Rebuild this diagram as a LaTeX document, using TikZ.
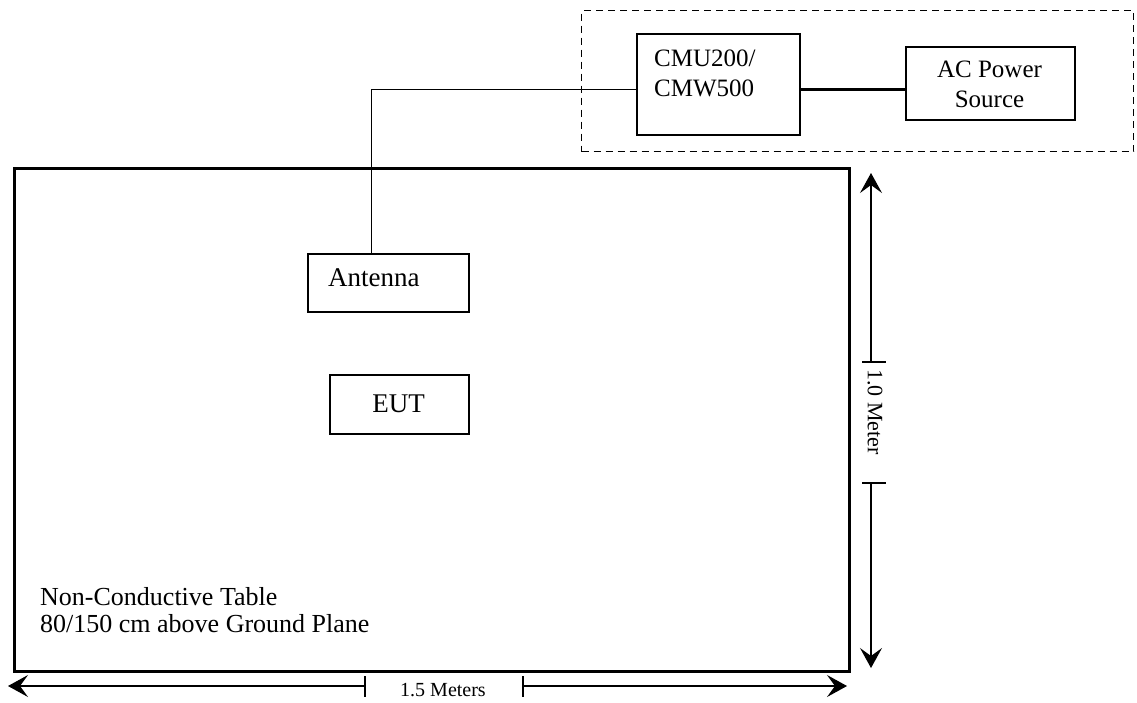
\documentclass[tikz,border=0pt]{standalone}
\usepackage{fontspec}
\setmainfont{Liberation Serif}
\usetikzlibrary{arrows.meta}
\begin{document}
\begin{tikzpicture}[x=1pt,y=-1pt,
  box/.style={draw, line width=1.6pt, inner sep=0pt, anchor=north west},
  tablebox/.style={draw, line width=3.2pt, inner sep=0pt, anchor=north west},
  grp/.style={draw, line width=1.3pt, dash pattern=on 7pt off 5pt, inner sep=0pt, anchor=north west},
  txt/.style={inner sep=0pt, font=\fontsize{25}{30}\selectfont},
  small/.style={inner sep=0pt, font=\fontsize{20}{22}\selectfont},
  wire/.style={line width=1.2pt},
  power/.style={line width=2.7pt},
  dim/.style={line width=1.1pt},
  tip/.style={-{Stealth[length=20pt,width=22pt,inset=8pt]}}
]
\useasboundingbox (0,0) rectangle (1137,702);
% group and boxes
\node[grp, minimum width=552pt, minimum height=141pt] (grp) at (581,10) {};
\node[tablebox, minimum width=835pt, minimum height=503pt] (table) at (13,167) {};
\node[box, minimum width=163pt, minimum height=101pt] (cmu) at (636,33) {};
\node[txt, anchor=base west, align=left] (cmut) at (654,96) {CMU200/\\CMW500};
\node[box, minimum width=169pt, minimum height=73pt] (ac) at (905,46) {};
\node[txt, align=center] (act) at (989.5,84) {AC Power\\Source};
\node[box, minimum width=161pt, minimum height=58pt] (ant) at (307,253) {};
\node[txt, font=\fontsize{27}{30}\selectfont, anchor=base west] (antt) at (328,286) {Antenna};
\node[box, minimum width=139pt, minimum height=59pt] (eut) at (329,374) {};
\node[txt, font=\fontsize{27}{30}\selectfont] (eutt) at (398.5,403.5) {EUT};
\node[txt, font=\fontsize{26}{27}\selectfont, anchor=base west, align=left] (tt) at (40,632) {Non-Conductive Table\\80/150 cm above Ground Plane};
% connectors
\draw[wire] ([xshift=-16.5pt]ant.north) |- ([yshift=-5.5pt]cmu.west);
\draw[power] ([yshift=-5.5pt]cmu.east) -- ([yshift=-5.5pt]cmu.east -| ac.west);
% horizontal dimension
\coordinate (hl) at (8,686);
\coordinate (hl2) at (365,686);
\coordinate (hr2) at (523,686);
\coordinate (hr) at (847,686);
\node[small] (hlab) at (443,690) {1.5 Meters};
\draw[dim, tip] (hl2) -- (hl);
\draw[dim, tip] (hr2) -- (hr);
\draw[dim] ([yshift=10pt]hl2) -- ([yshift=-11pt]hl2);
\draw[dim] ([yshift=10pt]hr2) -- ([yshift=-11pt]hr2);
% vertical dimension
\coordinate (vt) at (871,173);
\coordinate (vt2) at (871,362);
\coordinate (vb2) at (871,483);
\coordinate (vb) at (871,668);
\node[small, font=\fontsize{22}{24}\selectfont, rotate=-90] (vlab) at (875,412) {1.0 Meter};
\draw[dim, tip] (vt2) -- (vt);
\draw[dim, tip] (vb2) -- (vb);
\draw[dim] ([xshift=-9pt]vt2) -- ([xshift=15pt]vt2);
\draw[dim] ([xshift=-9pt]vb2) -- ([xshift=15pt]vb2);
\end{tikzpicture}
\end{document}
